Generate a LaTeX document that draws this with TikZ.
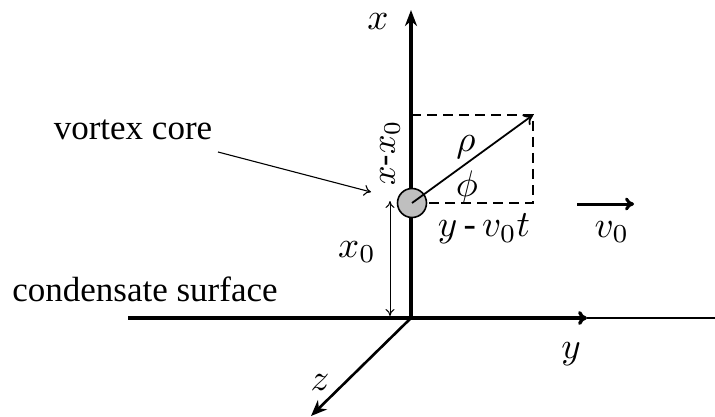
\documentclass[tikz,border=0pt]{standalone}
\usepackage{fontspec}
\setmainfont{Liberation Serif}
\usetikzlibrary{arrows.meta}
\tikzset{
  axis/.style={line width=3.2pt,-{Stealth[length=16pt,width=12pt,inset=5pt]}},
  thinarr/.style={line width=1.1pt,-{To[length=7pt,width=11pt]}},
  dimarr/.style={line width=1pt,{To[length=7pt,width=9pt]}-{To[length=7pt,width=9pt]}},
  dashline/.style={line width=2pt,dash pattern=on 10pt off 6pt},
  lbl/.style={inner sep=0pt,scale=3.7},
  txt/.style={inner sep=0pt,font=\fontsize{35}{40}\selectfont},
}
\begin{document}
\begin{tikzpicture}[x=1pt,y=-1pt]
\useasboundingbox (0,0) rectangle (715,417);
\coordinate (O) at (411,318);
\coordinate (C) at (412,203);
\coordinate (P) at (533,115);
\coordinate (T) at (411,115);
\coordinate (Q) at (533,203);
% surface line
\coordinate (L) at (128,318);
\coordinate (R) at (715,318);
\coordinate (Y) at (587,318);
\draw[line width=3.4pt] (L) -- (O);
\draw[line width=2.4pt] (Y) -- (R);
\draw[line width=3.4pt,-{To[length=9pt,width=14pt]}] (O) -- (Y);
% x axis
\coordinate (X) at (411,10);
\draw[axis] (O) -- (X);
% z axis
\coordinate (Z) at (311,416);
\draw[line width=2.6pt,-{Stealth[length=16pt,width=13pt,inset=5pt]}] (O) -- (Z);
% dashed rectangle
\draw[dashline] (T) -- (P) -- (Q) -- (C);
% vortex core
\node[circle,draw,line width=1.6pt,fill=gray!50,minimum size=29pt,inner sep=0pt] (core) at (C) {};
\draw[line width=1.8pt,-{To[length=9pt,width=13pt]}] (C) -- (P);
% v0 arrow
\coordinate (V1) at (577,204);
\coordinate (V2) at (634,204);
\draw[line width=3pt,-{To[length=9pt,width=13pt]}] (V1) -- (V2);
% x0 dimension
\coordinate (D1) at (390,201);
\coordinate (D2) at (390,316);
\draw[dimarr] (D1) -- (D2);
% labels
\node[lbl] (lx) at (378,22) {$x$};
\node[lbl] (ly) at (571,354) {$y$};
\node[lbl] (lz) at (320,383) {$z$};
\node[lbl] (lrho) at (466,147) {$\rho$};
\node[lbl] (lphi) at (467,187) {$\phi$};
\node[lbl] (lyv) at (484,229) {$y\,\textrm{-}\,v_0t$};
\node[lbl] (lv0) at (612,232) {$v_0$};
\node[lbl] (lx0) at (357,252) {$x_0$};
\node[lbl,scale=0.92,rotate=90] (lxx) at (390,153) {$x\textrm{-}x_0$};
\node[txt] (vc) at (133,130) {vortex core};
\node[txt] (cs) at (145,289) {condensate surface};
\coordinate (VA) at (218,152);
\coordinate (VB) at (371,192);
\draw[thinarr] (VA) -- (VB);
\end{tikzpicture}
\end{document}
